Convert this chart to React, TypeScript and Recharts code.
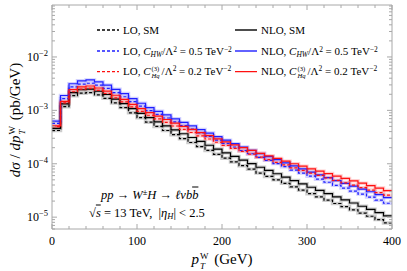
import React from "react";
import { LineChart, Line, XAxis, YAxis } from "recharts";

// pT bin edges (GeV), 10 GeV bins
const PT_EDGES = [
  0, 10, 20, 30, 40, 50, 60, 70, 80, 90, 100, 110, 120, 130, 140, 150, 160, 170, 180, 190, 200,
  210, 220, 230, 240, 250, 260, 270, 280, 290, 300, 310, 320, 330, 340, 350, 360, 370, 380, 390, 400,
];

// dσ/dpT (pb/GeV) per bin
const LO_SM = [
  4.2e-4, 1.17e-3, 1.88e-3, 2.1e-3, 2.15e-3, 1.95e-3, 1.68e-3, 1.38e-3, 1.13e-3, 9.0e-4,
  7.3e-4, 6.0e-4, 5.0e-4, 4.2e-4, 3.5e-4, 2.95e-4, 2.5e-4, 2.1e-4, 1.78e-4, 1.5e-4,
  1.27e-4, 1.08e-4, 9.2e-5, 7.9e-5, 6.7e-5, 5.8e-5, 5.0e-5, 4.3e-5, 3.7e-5, 3.2e-5,
  2.75e-5, 2.4e-5, 2.08e-5, 1.8e-5, 1.57e-5, 1.37e-5, 1.19e-5, 1.04e-5, 9.0e-6, 7.8e-6,
];
const NLO_SM = [
  4.6e-4, 1.32e-3, 2.15e-3, 2.43e-3, 2.5e-3, 2.28e-3, 1.98e-3, 1.63e-3, 1.34e-3, 1.08e-3,
  8.8e-4, 7.3e-4, 6.1e-4, 5.1e-4, 4.3e-4, 3.65e-4, 3.1e-4, 2.62e-4, 2.22e-4, 1.88e-4,
  1.6e-4, 1.37e-4, 1.17e-4, 1.01e-4, 8.6e-5, 7.5e-5, 6.5e-5, 5.6e-5, 4.85e-5, 4.2e-5,
  3.63e-5, 3.17e-5, 2.76e-5, 2.4e-5, 2.1e-5, 1.84e-5, 1.6e-5, 1.4e-5, 1.22e-5, 1.06e-5,
];
const LO_HW = [
  5.7e-4, 1.66e-3, 2.75e-3, 3.1e-3, 3.22e-3, 2.96e-3, 2.59e-3, 2.15e-3, 1.8e-3, 1.46e-3,
  1.2e-3, 9.9e-4, 8.4e-4, 7.2e-4, 6.1e-4, 5.2e-4, 4.45e-4, 3.8e-4, 3.26e-4, 2.78e-4,
  2.4e-4, 2.06e-4, 1.77e-4, 1.54e-4, 1.32e-4, 1.16e-4, 1.01e-4, 8.8e-5, 7.6e-5, 6.7e-5,
  5.85e-5, 5.15e-5, 4.5e-5, 3.95e-5, 3.5e-5, 3.07e-5, 2.7e-5, 2.38e-5, 2.08e-5, 1.82e-5,
];
const NLO_HW = [
  6.3e-4, 1.9e-3, 3.15e-3, 3.58e-3, 3.72e-3, 3.42e-3, 2.98e-3, 2.48e-3, 2.06e-3, 1.66e-3,
  1.36e-3, 1.13e-3, 9.6e-4, 8.2e-4, 6.95e-4, 5.95e-4, 5.1e-4, 4.37e-4, 3.76e-4, 3.21e-4,
  2.76e-4, 2.38e-4, 2.05e-4, 1.79e-4, 1.55e-4, 1.36e-4, 1.19e-4, 1.04e-4, 9.1e-5, 8.0e-5,
  7.0e-5, 6.2e-5, 5.5e-5, 4.85e-5, 4.3e-5, 3.8e-5, 3.36e-5, 2.99e-5, 2.64e-5, 2.33e-5,
];
const LO_HQ = [
  4.96e-4, 1.38e-3, 2.23e-3, 2.5e-3, 2.58e-3, 2.37e-3, 2.07e-3, 1.72e-3, 1.44e-3, 1.16e-3,
  9.6e-4, 8.1e-4, 6.9e-4, 5.95e-4, 5.09e-4, 4.41e-4, 3.85e-4, 3.33e-4, 2.91e-4, 2.53e-4,
  2.21e-4, 1.94e-4, 1.71e-4, 1.52e-4, 1.33e-4, 1.19e-4, 1.06e-4, 9.5e-5, 8.4e-5, 7.5e-5,
  6.7e-5, 6.06e-5, 5.44e-5, 4.87e-5, 4.39e-5, 3.97e-5, 3.56e-5, 3.22e-5, 2.88e-5, 2.58e-5,
];
const NLO_HQ = [
  5.12e-4, 1.47e-3, 2.46e-3, 2.76e-3, 2.86e-3, 2.62e-3, 2.29e-3, 1.92e-3, 1.6e-3, 1.3e-3,
  1.08e-3, 9.1e-4, 7.8e-4, 6.74e-4, 5.79e-4, 5.03e-4, 4.4e-4, 3.82e-4, 3.35e-4, 2.93e-4,
  2.57e-4, 2.26e-4, 2.0e-4, 1.78e-4, 1.57e-4, 1.41e-4, 1.26e-4, 1.12e-4, 1.0e-4, 9.0e-5,
  8.03e-5, 7.27e-5, 6.54e-5, 5.87e-5, 5.31e-5, 4.8e-5, 4.32e-5, 3.91e-5, 3.51e-5, 3.15e-5,
];

const X_TICKS = [0, 20, 40, 60, 80, 100, 120, 140, 160, 180, 200, 220, 240, 260, 280, 300, 320, 340, 360, 380, 400];
const Y_DECADES = [1e-6, 1e-5, 1e-4, 1e-3, 1e-2];
const Y_DOMAIN: [number, number] = [6e-6, 0.094];

const BLUE = "#1f1fff";
const RED = "#ff1010";
const BLACK = "#000000";
const AX = "#a8a8a8";
const FONT = "'Liberation Serif', 'DejaVu Serif', serif";

const yTicks: number[] = [];
Y_DECADES.forEach((d) => {
  for (let m = 1; m <= 9; m++) {
    const v = d * m;
    if (v >= Y_DOMAIN[0] && v <= Y_DOMAIN[1]) yTicks.push(v);
  }
});

const rows = PT_EDGES.map((pt, i) => {
  const k = Math.min(i, LO_SM.length - 1);
  return {
    pt,
    loSM: LO_SM[k],
    nloSM: NLO_SM[k],
    loHW: LO_HW[k],
    nloHW: NLO_HW[k],
    loHq: LO_HQ[k],
    nloHq: NLO_HQ[k],
  };
});

const SERIES = [
  { key: "loSM", color: BLACK, dashed: true },
  { key: "nloSM", color: BLACK, dashed: false },
  { key: "loHW", color: BLUE, dashed: true },
  { key: "nloHW", color: BLUE, dashed: false },
  { key: "loHq", color: RED, dashed: true },
  { key: "nloHq", color: RED, dashed: false },
];

const isMajorDecade = (v: number) => Math.abs(Math.log10(v) - Math.round(Math.log10(v))) < 1e-6;

function XBottomTick({ x, y, payload }: any) {
  const major = payload.value % 100 === 0;
  return (
    <g>
      <line x1={x} x2={x} y1={y} y2={y - (major ? 5 : 3)} stroke={AX} />
      {major && (
        <text x={x} y={y + 16} textAnchor="middle" fontSize={12} fontFamily={FONT} fill="#000">
          {payload.value}
        </text>
      )}
    </g>
  );
}

function XTopTick({ x, y, payload }: any) {
  const major = payload.value % 100 === 0;
  return <line x1={x} x2={x} y1={y} y2={y + (major ? 5 : 3)} stroke={AX} />;
}

function YLeftTick({ x, y, payload }: any) {
  const major = isMajorDecade(payload.value);
  const exp = Math.round(Math.log10(payload.value));
  return (
    <g>
      <line x1={x} x2={x + (major ? 5 : 3)} y1={y} y2={y} stroke={AX} />
      {major && (
        <text x={x - 4} y={y + 4} textAnchor="end" fontSize={12} fontFamily={FONT} fill="#000">
          10
          <tspan dy={-5} fontSize={8.5}>
            {"\u2212" + Math.abs(exp)}
          </tspan>
        </text>
      )}
    </g>
  );
}

function YRightTick({ x, y, payload }: any) {
  const major = isMajorDecade(payload.value);
  return <line x1={x} x2={x - (major ? 5 : 3)} y1={y} y2={y} stroke={AX} />;
}

// stacked superscript over subscript, e.g. C^(3)_Hq, p^W_T
function SupSub({ sup, sub }: { sup: string; sub: string }) {
  return (
    <span
      style={{
        display: "inline-flex",
        flexDirection: "column",
        verticalAlign: "middle",
        fontSize: "0.6em",
        lineHeight: 1.12,
        fontStyle: "normal",
        marginLeft: 1,
        marginRight: 2,
      }}
    >
      <span>{sup}</span>
      <span style={{ fontStyle: "italic" }}>{sub}</span>
    </span>
  );
}

const sub = (t: string, italic = true) => (
  <sub style={{ fontSize: "0.68em", verticalAlign: "-0.3em", lineHeight: 0, fontStyle: italic ? "italic" : "normal" }}>{t}</sub>
);
const sup = (t: string) => <sup style={{ fontSize: "0.68em", verticalAlign: "0.45em", lineHeight: 0 }}>{t}</sup>;

const CHW = (
  <>
    <i>C</i>
    {sub("HW")}/Λ{sup("2")} = 0.5 TeV{sup("\u22122")}
  </>
);
const CHQ = (
  <>
    <i>C</i>
    <SupSub sup="(3)" sub="Hq" />
    /Λ{sup("2")} = 0.2 TeV{sup("\u22122")}
  </>
);

function LegendItem({ x, y, color, dashed, children }: any) {
  return (
    <div
      style={{
        position: "absolute",
        left: x,
        top: y,
        transform: "translateY(-50%)",
        display: "flex",
        alignItems: "center",
        whiteSpace: "nowrap",
        fontSize: 11,
      }}
    >
      <svg width={22} height={4} style={{ marginRight: 4 }}>
        <line x1={0} x2={22} y1={2} y2={2} stroke={color} strokeWidth={1.4} strokeDasharray={dashed ? "3 2" : undefined} />
      </svg>
      <span>{children}</span>
    </div>
  );
}

export default function App() {
  return (
    <div style={{ position: "absolute", left: 0, top: 0, width: 407, height: 271, fontFamily: FONT, color: "#000" }}>
      <LineChart width={407} height={271} data={rows} margin={{ top: 4, right: 14, bottom: 41, left: 51 }}>
        <XAxis
          dataKey="pt"
          type="number"
          domain={[0, 400]}
          ticks={X_TICKS}
          interval={0}
          height={1}
          tickSize={0}
          tickMargin={0}
          tickLine={false}
          axisLine={{ stroke: AX }}
          tick={<XBottomTick />}
          allowDataOverflow
        />
        <XAxis
          xAxisId="top"
          orientation="top"
          dataKey="pt"
          type="number"
          domain={[0, 400]}
          ticks={X_TICKS}
          interval={0}
          height={1}
          tickSize={0}
          tickMargin={0}
          tickLine={false}
          axisLine={{ stroke: AX }}
          tick={<XTopTick />}
          allowDataOverflow
        />
        <YAxis
          type="number"
          scale="log"
          domain={Y_DOMAIN}
          ticks={yTicks}
          interval={0}
          width={1}
          tickSize={0}
          tickMargin={0}
          tickLine={false}
          axisLine={{ stroke: AX }}
          tick={<YLeftTick />}
          allowDataOverflow
        />
        <YAxis
          yAxisId="right"
          orientation="right"
          type="number"
          scale="log"
          domain={Y_DOMAIN}
          ticks={yTicks}
          interval={0}
          width={1}
          tickSize={0}
          tickMargin={0}
          tickLine={false}
          axisLine={{ stroke: AX }}
          tick={<YRightTick />}
          allowDataOverflow
        />
        {SERIES.map((s) => (
          <Line
            key={s.key + "-band"}
            dataKey={s.key}
            type="stepAfter"
            stroke={s.color}
            strokeOpacity={0.2}
            strokeWidth={3.5}
            dot={false}
            activeDot={false}
            isAnimationActive={false}
          />
        ))}
        {SERIES.map((s) => (
          <Line
            key={s.key}
            dataKey={s.key}
            type="stepAfter"
            stroke={s.color}
            strokeWidth={1.2}
            strokeDasharray={s.dashed ? "3 2" : undefined}
            dot={false}
            activeDot={false}
            isAnimationActive={false}
          />
        ))}
      </LineChart>

      <LegendItem x={97} y={30} color={BLACK} dashed>
        LO, SM
      </LegendItem>
      <LegendItem x={97} y={51} color={BLUE} dashed>
        LO, {CHW}
      </LegendItem>
      <LegendItem x={97} y={72} color={RED} dashed>
        LO, {CHQ}
      </LegendItem>
      <LegendItem x={235} y={30} color={BLACK}>
        NLO, SM
      </LegendItem>
      <LegendItem x={235} y={51} color={BLUE}>
        NLO, {CHW}
      </LegendItem>
      <LegendItem x={235} y={72} color={RED}>
        NLO, {CHQ}
      </LegendItem>

      <div style={{ position: "absolute", left: 101, top: 195, transform: "translateY(-50%)", fontSize: 12.5, whiteSpace: "nowrap" }}>
        <i>pp</i> → <i>W</i>
        {sup("±")}
        <i>H</i> → <i>ℓνb</i>
        <i style={{ textDecoration: "overline" }}>b</i>
      </div>
      <div style={{ position: "absolute", left: 89, top: 213, transform: "translateY(-50%)", fontSize: 12.5, whiteSpace: "nowrap" }}>
        √<i style={{ textDecoration: "overline" }}>s</i> = 13 TeV, &nbsp;|<i>η</i>
        {sub("H")}| &lt; 2.5
      </div>

      <div
        style={{
          position: "absolute",
          left: 17,
          top: 120,
          transform: "translate(-50%, -50%) rotate(-90deg)",
          fontSize: 15,
          whiteSpace: "nowrap",
        }}
      >
        <i>dσ</i> / <i>dp</i>
        <SupSub sup="W" sub="T" /> (pb/GeV)
      </div>
      <div
        style={{
          position: "absolute",
          left: 222,
          top: 261,
          transform: "translate(-50%, -50%)",
          fontSize: 15,
          whiteSpace: "nowrap",
        }}
      >
        <i>p</i>
        <SupSub sup="W" sub="T" /> (GeV)
      </div>
    </div>
  );
}
